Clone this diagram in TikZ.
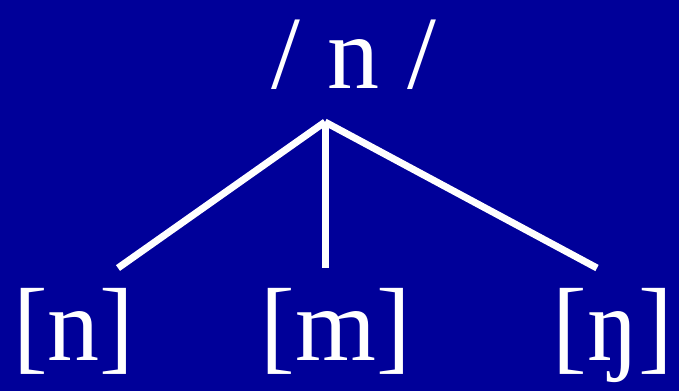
\documentclass[tikz,border=0pt]{standalone}
\usepackage{fontspec}
\setmainfont{Liberation Serif}
\usetikzlibrary{positioning}
\definecolor{slideblue}{HTML}{000099}
\tikzset{
  branch/.style={line width=7pt, white},
  phone/.style={text=white, anchor=base, inner sep=0pt, font=\fontsize{104}{104}\selectfont},
}

\begin{document}
\begin{tikzpicture}[x=1pt, y=-1pt]
  % Background
  \fill[slideblue] (0,0) rectangle (679,391);
  \useasboundingbox (0,0) rectangle (679,391);

  % Phoneme and allophones
  \node[phone] (phoneme) at (354,88) {/\kern28pt n\kern28pt/};
  \node[phone] (alvn) at (74,360) {[n]};
  \node[phone] (labm) at (336,360) {[m]};
  \node[phone] (velng) at (613,360) {[ŋ]};

  % Branches
  \coordinate (top) at (325,122);
  \coordinate (endn) at (118,268);
  \coordinate (endm) at (325,268);
  \coordinate (endng) at (597,268);
  \draw[branch] (top) -- (endn);
  \draw[branch] (top) -- (endm);
  \draw[branch] (top) -- (endng);
\end{tikzpicture}
\end{document}
